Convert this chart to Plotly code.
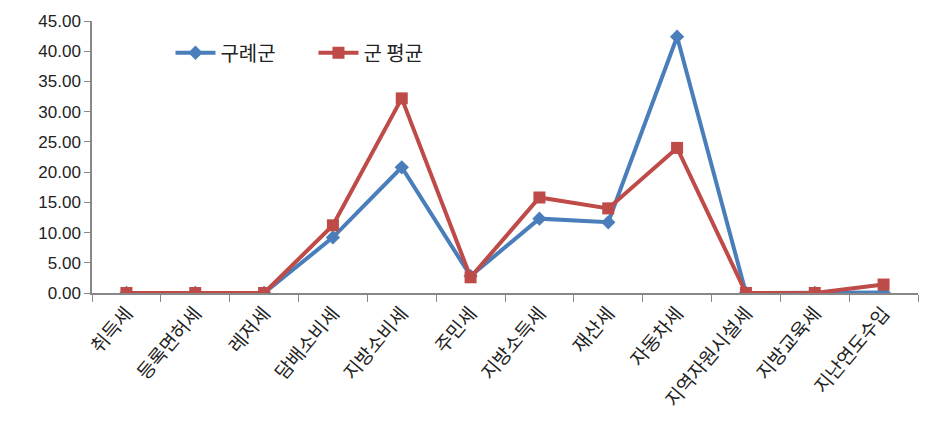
import plotly.graph_objects as go

categories = ["취득세", "등록면허세", "레저세", "담배소비세", "지방소비세", "주민세",
              "지방소득세", "재산세", "자동차세", "지역자원시설세", "지방교육세", "지난연도수입"]
gurye = [0.0, 0.0, 0.0, 9.2, 20.8, 2.8, 12.3, 11.7, 42.4, 0.0, 0.0, 0.1]
gun_avg = [0.0, 0.0, 0.0, 11.2, 32.2, 2.6, 15.8, 14.0, 24.0, 0.0, 0.0, 1.4]
yticks = [0, 5, 10, 15, 20, 25, 30, 35, 40, 45]

fig = go.Figure()
fig.add_trace(go.Scatter(x=categories, y=gurye, name="구례군", mode="lines+markers",
                         line=dict(color="#4A7EBB", width=4),
                         marker=dict(symbol="diamond", size=11, color="#4A7EBB")))
fig.add_trace(go.Scatter(x=categories, y=gun_avg, name="군 평균", mode="lines+markers",
                         line=dict(color="#BE4B48", width=4),
                         marker=dict(symbol="square", size=12, color="#BE4B48")))

font_family = "Noto Sans CJK KR, Noto Sans, sans-serif"
fig.update_layout(
    width=934, height=443,
    margin=dict(l=84, r=24, t=13, b=158, autoexpand=False),
    paper_bgcolor="white", plot_bgcolor="white",
    font=dict(family=font_family, size=16, color="#222"),
    legend=dict(orientation="h", x=0.095, y=0.955, xanchor="left", yanchor="top",
                font=dict(size=20, color="#222"), bgcolor="rgba(0,0,0,0)",
                itemwidth=40, entrywidth=88),
    xaxis=dict(tickangle=-50, showgrid=False, showline=True, linecolor="#888",
               linewidth=1.5, ticks="outside", tickson="boundaries", ticklen=7,
               tickcolor="#888", tickfont=dict(size=19, color="#222"),
               range=[-0.5, 11.5], automargin=False, ticklabeloverflow="allow"),
    yaxis=dict(range=[0, 45], tickvals=yticks, tickformat=".2f", showgrid=False,
               showline=True, linecolor="#888", linewidth=1.5, ticks="outside",
               ticklen=6, tickcolor="#888",
               tickfont=dict(size=17, color="#222", family="Liberation Sans, Arial, sans-serif"),
               zeroline=False, automargin=False, ticklabeloverflow="allow"),
)
fig.write_html("out.html")
